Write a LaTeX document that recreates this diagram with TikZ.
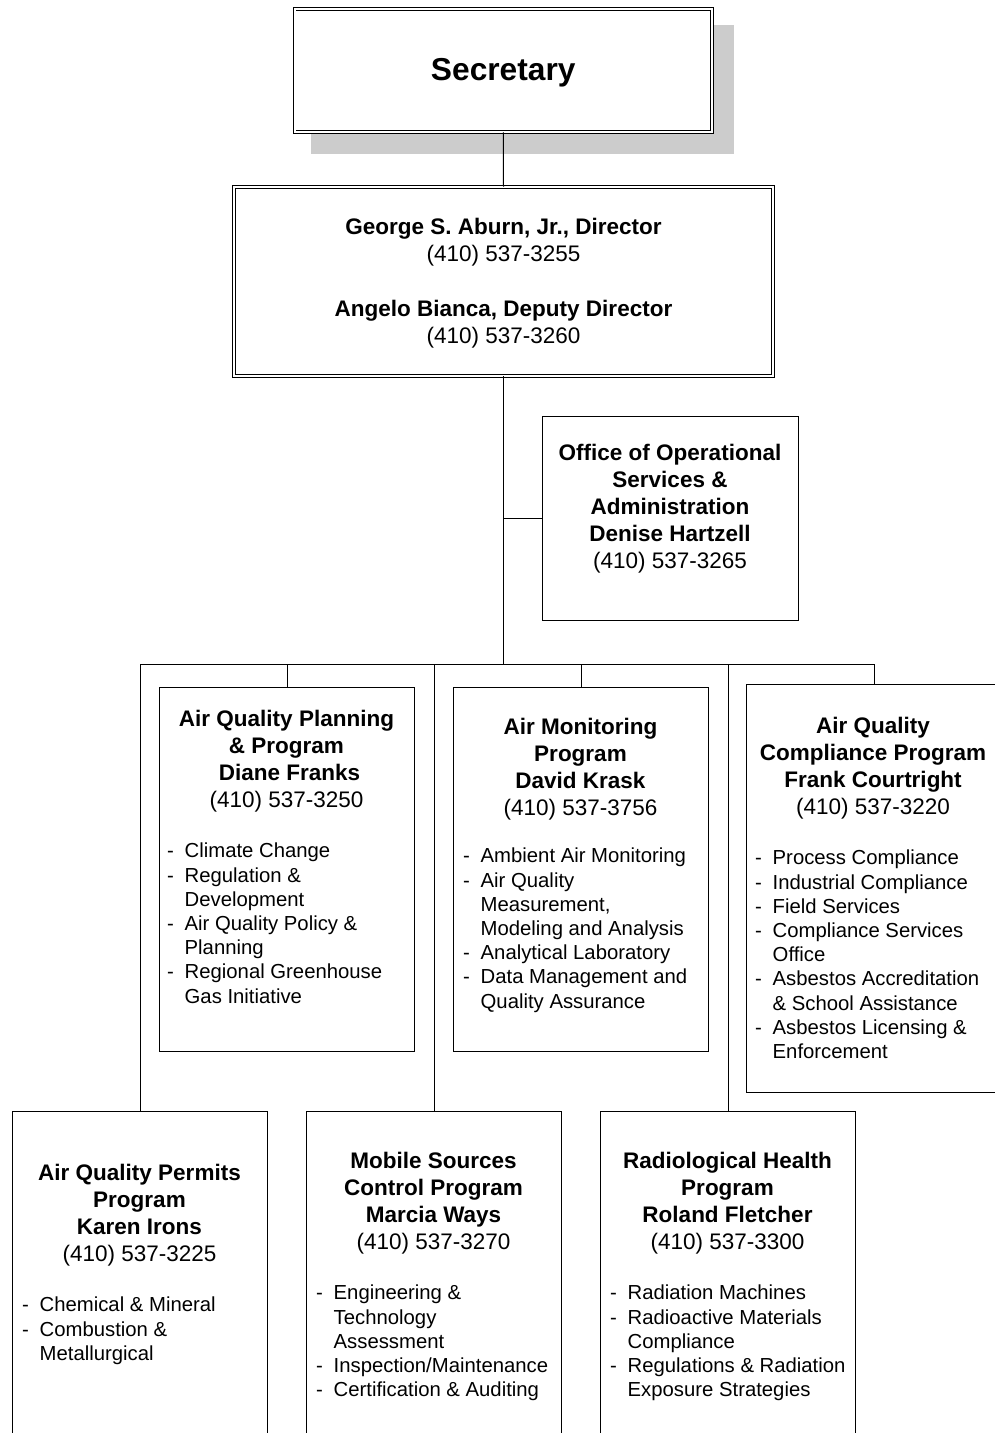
\documentclass[tikz,border=0pt]{standalone}
\usepackage{fontspec}
\setmainfont{Liberation Sans}
\definecolor{shadowgray}{HTML}{CCCCCC}
\tikzset{
  box/.style={draw, line width=1pt, fill=white, rectangle, inner sep=0pt, anchor=north west},
  dbox/.style={draw, double, double distance=2pt, line width=0.8pt, fill=white, rectangle, inner sep=0pt},
  ttl/.style={anchor=north, align=center, inner sep=0pt, font=\fontsize{22.5}{27}\selectfont\bfseries},
  lst/.style={anchor=north west, align=left, inner sep=0pt, font=\fontsize{20.3}{24.2}\selectfont},
  conn/.style={line width=1pt}
}
\newcommand\bitem[1]{\makebox[17.5pt][l]{-}#1}
\newcommand\bcont[1]{\hspace*{17.5pt}#1}
\begin{document}
\begin{tikzpicture}[x=1pt,y=-1pt]
\useasboundingbox (0,0) rectangle (994,1433);
% Secretary
\fill[shadowgray] (311,25) rectangle (734,154);
\node[dbox, minimum width=417.5pt, minimum height=123pt] (sec) at (503.25,70.5) {};
\node[inner sep=0pt, font=\fontsize{31.7}{36}\selectfont\bfseries] (sectxt) at (503.25,73) {Secretary};
% Director
\node[dbox, minimum width=539pt, minimum height=189pt] (dir) at (503.5,281.5) {};
\node[ttl] (dirtxt) at (503.5,218) {George S. Aburn, Jr., Director\\{\mdseries (410) 537-3255}\\[28pt]Angelo Bianca, Deputy Director\\{\mdseries (410) 537-3260}};
% Office
\node[box, minimum width=256pt, minimum height=204pt] (off) at (542,416) {};
\node[ttl] (offtxt) at (670,444) {Office of Operational\\Services \&\\Administration\\Denise Hartzell\\{\mdseries (410) 537-3265}};
% Row 1 boxes
\node[box, minimum width=255pt, minimum height=364pt] (plan) at (159,687) {};
\node[box, minimum width=255pt, minimum height=364pt] (mon) at (453,687) {};
\node[box, minimum width=256pt, minimum height=408pt] (comp) at (746,684) {};
% Row 2 boxes
\node[box, minimum width=255pt, minimum height=340pt] (perm) at (12,1111) {};
\node[box, minimum width=255pt, minimum height=340pt] (mob) at (306,1111) {};
\node[box, minimum width=255pt, minimum height=340pt] (rad) at (600,1111) {};
% Connectors
\coordinate (busL) at (140,664);
\coordinate (busR) at (874,664);
\draw[conn] (sec.south) -- (dir.north);
\draw[conn] (dir.south) -- (dir.south |- busL);
\draw[conn] (off.west) -- (off.west -| dir.south);
\draw[conn] (busL) -- (busR);
\draw[conn] (plan.north) -- (plan.north |- busL);
\draw[conn] (mon.north) -- (mon.north |- busL);
\draw[conn] (comp.north) -- (comp.north |- busL);
\draw[conn] (perm.north) -- (perm.north |- busL);
\draw[conn] (mob.north) -- (mob.north |- busL);
\draw[conn] (rad.north) -- (rad.north |- busL);
% Titles
\node[ttl] (plant) at (286.5,710) {Air Quality Planning\\\& Program\\\hspace*{6pt}Diane Franks\\{\mdseries (410) 537-3250}};
\node[ttl] (mont) at (580.5,718) {Air Monitoring\\Program\\David Krask\\{\mdseries (410) 537-3756}};
\node[ttl] (compt) at (873,717) {Air Quality\\Compliance Program\\Frank Courtright\\{\mdseries (410) 537-3220}};
\node[ttl] (permt) at (139.5,1164) {Air Quality Permits\\Program\\Karen Irons\\{\mdseries (410) 537-3225}};
\node[ttl] (mobt) at (433.5,1152) {Mobile Sources\\Control Program\\Marcia Ways\\{\mdseries (410) 537-3270}};
\node[ttl] (radt) at (727.5,1152) {Radiological Health\\Program\\Roland Fletcher\\{\mdseries (410) 537-3300}};
% Lists
\node[lst] (planl) at (167,843) {\bitem{Climate Change}\\\bitem{Regulation \&}\\\bcont{Development}\\\bitem{Air Quality Policy \&}\\\bcont{Planning}\\\bitem{Regional Greenhouse}\\\bcont{Gas Initiative}};
\node[lst] (monl) at (463,848) {\bitem{Ambient Air Monitoring}\\\bitem{Air Quality}\\\bcont{Measurement,}\\\bcont{Modeling and Analysis}\\\bitem{Analytical Laboratory}\\\bitem{Data Management and}\\\bcont{Quality Assurance}};
\node[lst] (compl) at (755,850) {\bitem{Process Compliance}\\\bitem{Industrial Compliance}\\\bitem{Field Services}\\\bitem{Compliance Services}\\\bcont{Office}\\\bitem{Asbestos Accreditation}\\\bcont{\& School Assistance}\\\bitem{Asbestos Licensing \&}\\\bcont{Enforcement}};
\node[lst] (perml) at (22,1297) {\bitem{Chemical \& Mineral}\\\bitem{Combustion \&}\\\bcont{Metallurgical}};
\node[lst] (mobl) at (316,1285) {\bitem{Engineering \&}\\\bcont{Technology}\\\bcont{Assessment}\\\bitem{Inspection/Maintenance}\\\bitem{Certification \& Auditing}};
\node[lst] (radl) at (610,1285) {\bitem{Radiation Machines}\\\bitem{Radioactive Materials}\\\bcont{Compliance}\\\bitem{Regulations \& Radiation}\\\bcont{Exposure Strategies}};
\end{tikzpicture}
\end{document}
